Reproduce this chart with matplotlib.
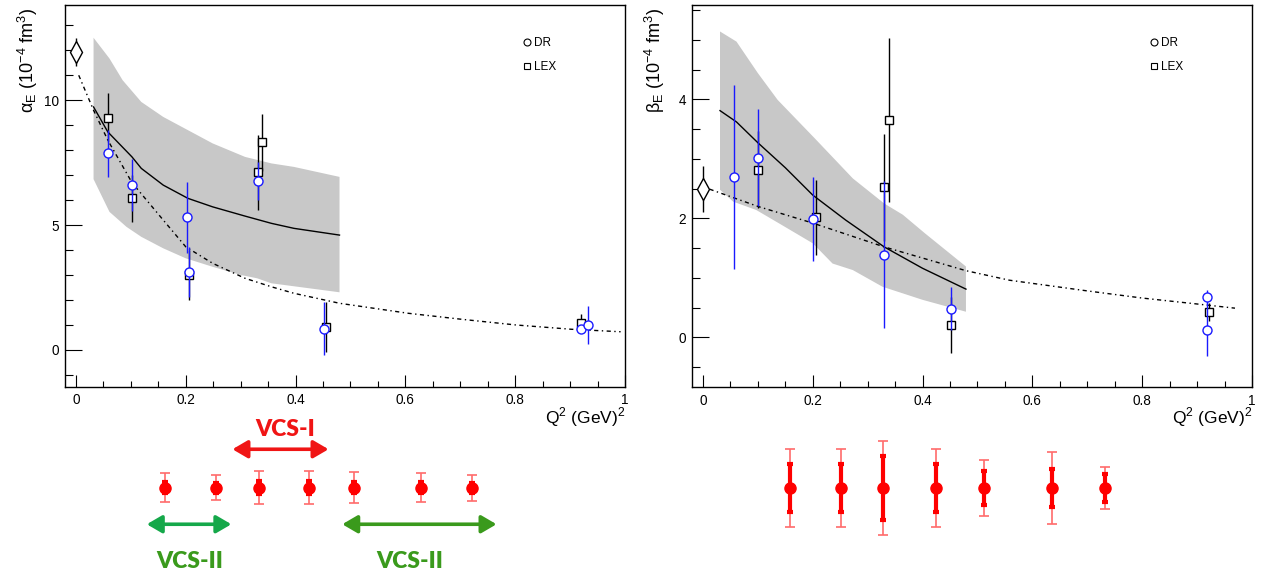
import numpy as np
import matplotlib
matplotlib.use("Agg")
import matplotlib.pyplot as plt
from matplotlib.lines import Line2D
from matplotlib.ticker import MultipleLocator, FormatStrFormatter

plt.rcParams['font.family'] = ['Liberation Sans', 'DejaVu Sans']
plt.rcParams['mathtext.fontset'] = 'custom'
plt.rcParams['mathtext.rm'] = 'Liberation Sans'

# ---------------- data ----------------
# real photon point (Q2 = 0)
rpp_q2 = [0.0]
alpha_rpp = [11.93]
alpha_rpp_err = [0.58]
beta_rpp = [2.49]
beta_rpp_err = [0.39]

# alpha_E, DR analysis
alpha_dr_q2 = [0.059, 0.102, 0.202, 0.205, 0.332, 0.451, 0.919, 0.932]
alpha_dr = [7.87, 6.60, 5.31, 3.11, 6.77, 0.85, 0.84, 1.00]
alpha_dr_err = [0.95, 1.05, 1.42, 1.00, 0.77, 1.07, 0.12, 0.78]
# alpha_E, LEX analysis
alpha_lex_q2 = [0.059, 0.102, 0.206, 0.331, 0.338, 0.456, 0.919]
alpha_lex = [9.29, 6.07, 3.00, 7.11, 8.31, 0.91, 1.07]
alpha_lex_err = [0.98, 0.95, 1.00, 1.50, 1.13, 1.00, 0.37]

# alpha_E fit band and curves
alpha_band_hi_q2 = [0.032, 0.061, 0.085, 0.119, 0.159, 0.204, 0.249, 0.308, 0.356, 0.397, 0.480]
alpha_band_hi = [12.5, 11.67, 10.8, 9.93, 9.33, 8.8, 8.27, 7.73, 7.47, 7.33, 6.93]
alpha_band_lo_q2 = [0.032, 0.061, 0.092, 0.119, 0.159, 0.200, 0.249, 0.301, 0.330, 0.356, 0.480]
alpha_band_lo = [6.84, 5.53, 4.93, 4.53, 4.07, 3.67, 3.33, 3.00, 2.87, 2.67, 2.31]
alpha_fit_q2 = [0.032, 0.058, 0.102, 0.119, 0.159, 0.204, 0.249, 0.308, 0.356, 0.397, 0.480]
alpha_fit = [9.73, 8.73, 7.73, 7.27, 6.60, 6.07, 5.73, 5.36, 5.07, 4.87, 4.60]
alpha_model_q2 = [0.005, 0.032, 0.058, 0.102, 0.159, 0.200, 0.249, 0.308, 0.356, 0.397,
                  0.480, 0.605, 0.702, 0.802, 0.902, 0.992]
alpha_model = [11.0, 9.6, 8.4, 6.7, 5.2, 4.13, 3.47, 2.87, 2.53, 2.27,
               1.87, 1.47, 1.23, 1.00, 0.83, 0.73]

# beta_E, DR analysis
beta_dr_q2 = [0.056, 0.100, 0.200, 0.330, 0.451, 0.918, 0.918]
beta_dr = [2.69, 3.02, 1.99, 1.39, 0.48, 0.67, 0.13]
beta_dr_err = [1.55, 0.82, 0.71, 1.24, 0.36, 0.12, 0.44]
# beta_E, LEX analysis
beta_lex_q2 = [0.100, 0.205, 0.330, 0.339, 0.451, 0.922]
beta_lex = [2.82, 2.02, 2.52, 3.65, 0.20, 0.42]
beta_lex_err = [0.65, 0.63, 0.90, 1.38, 0.47, 0.15]

# beta_E fit band and curves
beta_band_hi_q2 = [0.031, 0.061, 0.100, 0.136, 0.204, 0.273, 0.330, 0.364, 0.404, 0.479]
beta_band_hi = [5.14, 4.97, 4.44, 3.99, 3.34, 2.67, 2.25, 2.06, 1.75, 1.19]
beta_band_lo_q2 = [0.031, 0.055, 0.097, 0.145, 0.200, 0.236, 0.273, 0.327, 0.400, 0.479]
beta_band_lo = [2.48, 2.28, 2.14, 1.88, 1.58, 1.24, 1.13, 0.85, 0.63, 0.43]
beta_fit_q2 = [0.031, 0.061, 0.100, 0.150, 0.200, 0.260, 0.330, 0.400, 0.479]
beta_fit = [3.81, 3.62, 3.27, 2.85, 2.39, 1.97, 1.52, 1.16, 0.81]
beta_model_q2 = [0.012, 0.100, 0.200, 0.330, 0.479, 0.558, 0.700, 0.800, 0.900, 0.969]
beta_model = [2.49, 2.20, 1.92, 1.52, 1.12, 0.96, 0.78, 0.66, 0.56, 0.49]

# projected measurements (below each panel)
proj_alpha_q2 = [0.162, 0.255, 0.334, 0.425, 0.507, 0.629, 0.721]
proj_alpha_tot = [0.57, 0.50, 0.67, 0.67, 0.61, 0.58, 0.52]
proj_alpha_stat = [0.22, 0.20, 0.25, 0.25, 0.22, 0.22, 0.20]
proj_beta_q2 = [0.158, 0.252, 0.328, 0.424, 0.511, 0.636, 0.732]
proj_beta_tot = [0.66, 0.66, 0.795, 0.66, 0.47, 0.60, 0.345]
proj_beta_stat = [0.40, 0.40, 0.53, 0.40, 0.29, 0.32, 0.235]

W, H = 1280, 574
fig = plt.figure(figsize=(W / 100, H / 100), dpi=100)


def px_axes(x0, y0, x1, y1):
    return fig.add_axes([x0 / W, 1 - y1 / H, (x1 - x0) / W, (y1 - y0) / H])


def draw_panel(ax, ylab, ylim, ymajor, yminor,
               band_hi_q, band_hi, band_lo_q, band_lo, fit_q, fit, model_q, model,
               rpp, rpp_err, lex_q, lex, lex_err, dr_q, dr, dr_err):
    poly_x = list(band_hi_q) + list(band_lo_q)[::-1]
    poly_y = list(band_hi) + list(band_lo)[::-1]
    ax.fill(poly_x, poly_y, color='#c8c8c8', lw=0, zorder=1)
    ax.plot(fit_q, fit, color='black', lw=1, zorder=2)
    ax.plot(model_q, model, color='black', lw=1, dashes=(3, 2.5, 1, 2.5), zorder=2)

    ax.errorbar(rpp_q2, rpp, yerr=rpp_err, fmt='d', ms=11, mfc='white', mec='black',
                mew=1, ecolor='black', elinewidth=1, capsize=0, zorder=4)
    ax.errorbar(lex_q, lex, yerr=lex_err, fmt='s', ms=6, mfc='white', mec='black',
                mew=1, ecolor='black', elinewidth=1, capsize=0, zorder=4)
    ax.errorbar(dr_q, dr, yerr=dr_err, fmt='o', ms=6.5, mfc='white', mec='#1a1aff',
                mew=1, ecolor='#1a1aff', elinewidth=1, capsize=0, zorder=5)

    ax.set_xlim(-0.02, 1.0)
    ax.set_ylim(*ylim)
    ax.xaxis.set_major_locator(MultipleLocator(0.2))
    ax.xaxis.set_minor_locator(MultipleLocator(0.05))
    ax.yaxis.set_major_locator(MultipleLocator(ymajor))
    ax.yaxis.set_minor_locator(MultipleLocator(yminor))
    ax.xaxis.set_major_formatter(FormatStrFormatter('%g'))
    ax.yaxis.set_major_formatter(FormatStrFormatter('%g'))
    ax.tick_params(which='both', direction='in', top=False, right=False,
                   labelsize=9.8, width=0.8)
    ax.tick_params(axis='x', which='major', length=8.6, pad=4.5)
    ax.tick_params(axis='x', which='minor', length=4.3)
    ax.tick_params(axis='y', which='major', length=12.2, pad=4.3)
    ax.tick_params(axis='y', which='minor', length=6.1)
    for sp in ax.spines.values():
        sp.set_linewidth(1)

    ax.set_ylabel(ylab, fontsize=13, loc='top')
    ax.yaxis.set_label_coords(-0.044, 0.994)
    ax.set_xlabel('Q$^\\mathregular{2}$ (GeV)$^\\mathregular{2}$', fontsize=12.5, loc='right')
    ax.xaxis.set_label_coords(1.0, -0.048)

    handles = [Line2D([], [], marker='o', ls='none', ms=5, mfc='white', mec='black', mew=0.8),
               Line2D([], [], marker='s', ls='none', ms=5, mfc='white', mec='black', mew=0.8)]
    ax.legend(handles, ['DR', 'LEX'], loc='upper left', bbox_to_anchor=(0.816, 0.916),
              frameon=False, fontsize=8.5, handlelength=0.8, handletextpad=0.25,
              labelspacing=1.0, borderpad=0, borderaxespad=0)


def draw_projection(ax, q2, tot, stat, ylim):
    zeros = np.zeros(len(q2))
    ax.errorbar(q2, zeros, yerr=tot, fmt='none', ecolor='#ff6b6b', elinewidth=1.2,
                capsize=3.5, capthick=1.2)
    ax.errorbar(q2, zeros, yerr=stat, fmt='o', color='#ff0000', ms=8,
                elinewidth=3, capsize=2.4, capthick=3)
    ax.set_xlim(-0.02, 1.0)
    ax.set_ylim(*ylim)
    ax.axis('off')


ax1 = px_axes(65, 5.3, 625, 386.7)
draw_panel(ax1, 'α$_\\mathregular{E}$ (10$^\\mathregular{-4}$ fm$^\\mathregular{3}$)',
           (-1.47, 13.8), 5, 1,
           alpha_band_hi_q2, alpha_band_hi, alpha_band_lo_q2, alpha_band_lo,
           alpha_fit_q2, alpha_fit, alpha_model_q2, alpha_model,
           alpha_rpp, alpha_rpp_err, alpha_lex_q2, alpha_lex, alpha_lex_err,
           alpha_dr_q2, alpha_dr, alpha_dr_err)

ax2 = px_axes(692, 5.3, 1252, 387.3)
draw_panel(ax2, 'β$_\\mathregular{E}$ (10$^\\mathregular{-4}$ fm$^\\mathregular{3}$)',
           (-0.84, 5.58), 2, 0.5,
           beta_band_hi_q2, beta_band_hi, beta_band_lo_q2, beta_band_lo,
           beta_fit_q2, beta_fit, beta_model_q2, beta_model,
           beta_rpp, beta_rpp_err, beta_lex_q2, beta_lex, beta_lex_err,
           beta_dr_q2, beta_dr, beta_dr_err)

# projected points and beam-time ranges
ax3 = px_axes(65, 420, 625, 574)
draw_projection(ax3, proj_alpha_q2, proj_alpha_tot, proj_alpha_stat, (-3.46, 2.7))
ax4 = px_axes(692, 420, 1252, 574)
draw_projection(ax4, proj_beta_q2, proj_beta_tot, proj_beta_stat, (-1.445, 1.143))

label_font = ['Lato', 'Liberation Sans', 'DejaVu Sans']
arrow_kw = dict(arrowstyle='<|-|>,head_length=0.65,head_width=0.38', lw=2.6,
                mutation_scale=14, shrinkA=0, shrinkB=0)
ax3.annotate('', xy=(0.46, 1.53), xytext=(0.285, 1.53),
             arrowprops=dict(color='#f01515', **arrow_kw), annotation_clip=False)
ax3.text(0.381, 2.3, 'VCS-I', color='#f01515', fontsize=16.5, fontweight='heavy',
         family=label_font, ha='center', va='center')
ax3.annotate('', xy=(0.283, -1.47), xytext=(0.129, -1.47),
             arrowprops=dict(color='#15a84a', **arrow_kw), annotation_clip=False)
ax3.annotate('', xy=(0.766, -1.47), xytext=(0.485, -1.47),
             arrowprops=dict(color='#3a9a1c', **arrow_kw), annotation_clip=False)
ax3.text(0.208, -2.97, 'VCS-II', color='#3a9a1c', fontsize=16.5, fontweight='heavy',
         family=label_font, ha='center', va='center')
ax3.text(0.607, -2.97, 'VCS-II', color='#3a9a1c', fontsize=16.5, fontweight='heavy',
         family=label_font, ha='center', va='center')

fig.savefig('out.png', dpi=100)
